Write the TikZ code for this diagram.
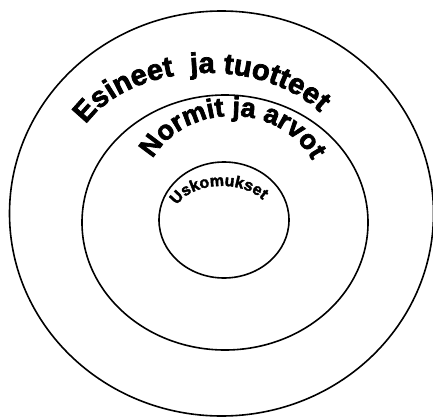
\documentclass[tikz,border=0pt]{standalone}
\usepackage{fontspec}
\newfontfamily\heavy{Liberation Sans}[FakeBold=2.5]
\usetikzlibrary{decorations.text}
\begin{document}
\begin{tikzpicture}[x=1pt,y=-1pt,
  ring/.style={draw=black, line width=1.6pt},
  arch/.style={decorate, decoration={text along path, text align={fit to path}, text={#1}}}]
\useasboundingbox (0,0) rectangle (433,417);
% rings
\draw[ring] (221.5,213.5) ellipse [x radius=212pt, y radius=202.5pt];
\draw[ring] (225,222.5) ellipse [x radius=143pt, y radius=127.5pt];
\draw[ring] (224,220) ellipse [x radius=65pt, y radius=58pt];
% arched labels (baselines are elliptic arcs)
\coordinate (e0) at (85.9,124.5);
\path[arch={|\heavy\bfseries\fontsize{29}{32}\selectfont|Esineet {\ }ja tuotteet}]
  (e0) arc [start angle=205.3, end angle=326.1, x radius=135, y radius=90];
\coordinate (n0) at (152.8,158.9);
\path[arch={|\heavy\bfseries\fontsize{27}{30}\selectfont|Normit ja arvot}]
  (n0) arc [start angle=205.8, end angle=334.2, x radius=88, y radius=76];
\coordinate (u0) at (177,205.5);
\path[arch={|\heavy\bfseries\fontsize{16}{18}\selectfont|Uskomukset}]
  (u0) arc [start angle=200.4, end angle=326.4, x radius=48, y radius=30];
\end{tikzpicture}
\end{document}
